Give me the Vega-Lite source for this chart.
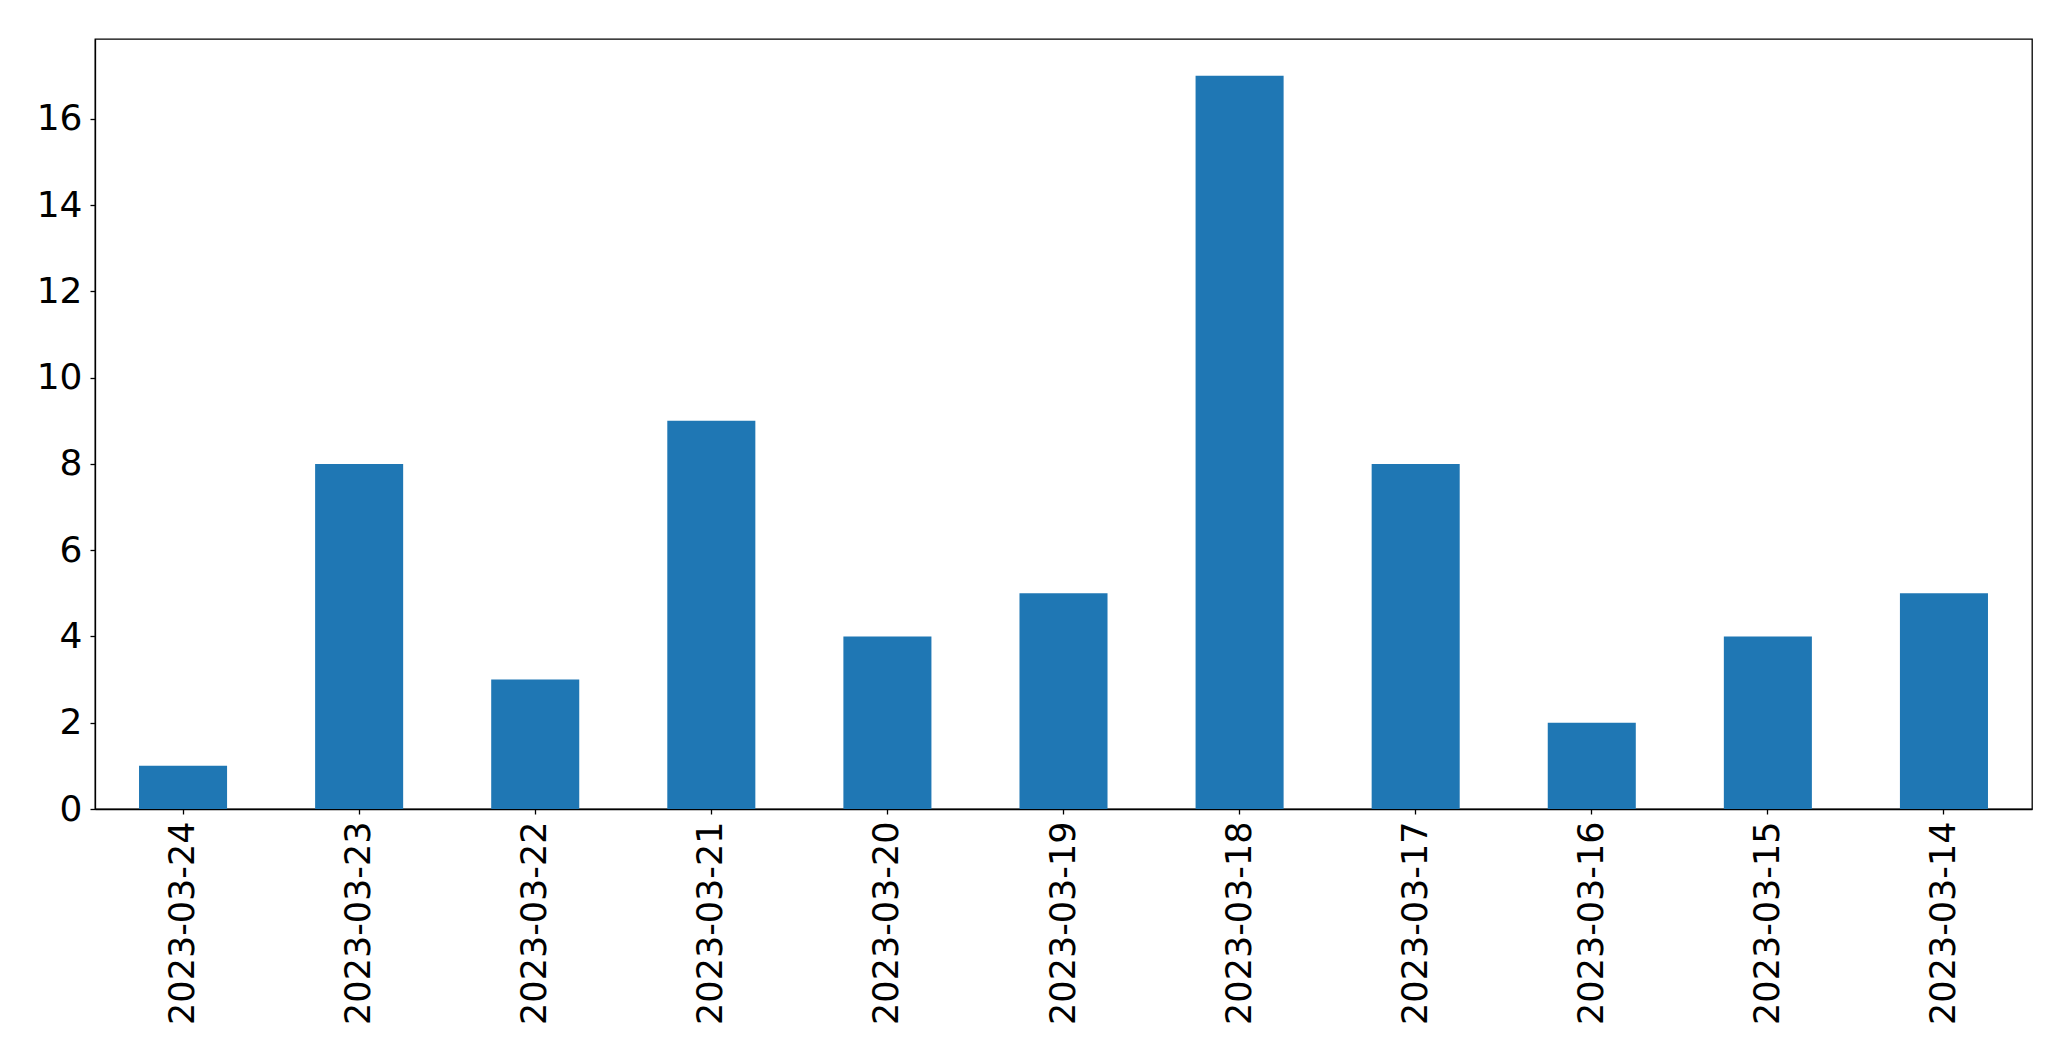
{
  "$schema": "https://vega.github.io/schema/vega-lite/v6.json",
  "width": 1937,
  "height": 770,
  "autosize": {"type": "none"},
  "padding": {"left": 95, "top": 39, "right": 39, "bottom": 252},
  "background": "white",
  "config": {
    "view": {"stroke": "black", "strokeWidth": 1.3},
    "font": "DejaVu Sans"
  },
  "data": {
    "values": [
      {"date": "2023-03-24", "count": 1},
      {"date": "2023-03-23", "count": 8},
      {"date": "2023-03-22", "count": 3},
      {"date": "2023-03-21", "count": 9},
      {"date": "2023-03-20", "count": 4},
      {"date": "2023-03-19", "count": 5},
      {"date": "2023-03-18", "count": 17},
      {"date": "2023-03-17", "count": 8},
      {"date": "2023-03-16", "count": 2},
      {"date": "2023-03-15", "count": 4},
      {"date": "2023-03-14", "count": 5}
    ]
  },
  "mark": {"type": "bar", "color": "#1f77b4"},
  "encoding": {
    "x": {
      "field": "date",
      "type": "nominal",
      "sort": null,
      "scale": {"paddingInner": 0.5, "paddingOuter": 0.25},
      "axis": {
        "title": null,
        "labelAngle": -90,
        "labelFont": "DejaVu Sans",
        "labelFontSize": 35,
        "labelLimit": 1000,
        "labelColor": "black",
        "labelPadding": 7,
        "tickSize": 5,
        "tickColor": "black",
        "tickWidth": 1.3,
        "domainColor": "black",
        "domainWidth": 1.3
      }
    },
    "y": {
      "field": "count",
      "type": "quantitative",
      "scale": {"domain": [0, 17.85], "nice": false},
      "axis": {
        "title": null,
        "values": [0, 2, 4, 6, 8, 10, 12, 14, 16],
        "grid": false,
        "labelFont": "DejaVu Sans",
        "labelFontSize": 36,
        "labelColor": "black",
        "labelPadding": 8,
        "tickSize": 5,
        "tickColor": "black",
        "tickWidth": 1.3,
        "domainColor": "black",
        "domainWidth": 1.3
      }
    }
  }
}
